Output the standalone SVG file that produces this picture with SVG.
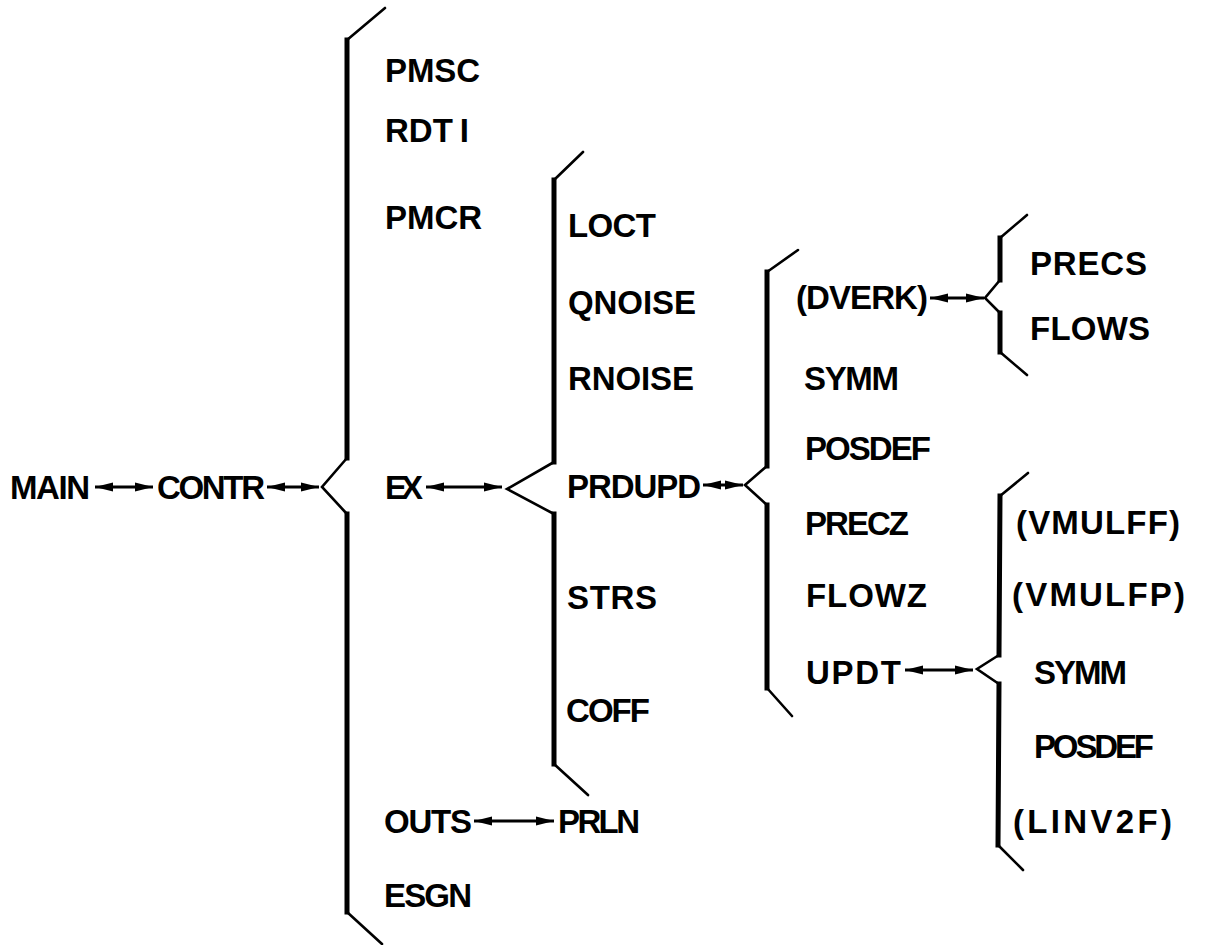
<svg xmlns="http://www.w3.org/2000/svg" width="1207" height="945" viewBox="0 0 1207 945">
<style>
text{font-family:"Liberation Sans",Arial,sans-serif;font-size:33px;font-weight:bold;fill:#000}
.v{fill:none;stroke:#000;stroke-width:5;stroke-linecap:square}
.d{fill:none;stroke:#000;stroke-width:2.6;stroke-linecap:round}
.a{fill:none;stroke:#000;stroke-width:2.8}
</style>
<defs>
<marker id="ah" markerUnits="userSpaceOnUse" markerWidth="20" markerHeight="12" refX="18" refY="6" orient="auto-start-reverse">
<path d="M0,1.5 L18,6 L0,10.5 Z" fill="#000"/>
</marker>
</defs>
<rect width="1207" height="945" fill="#fff"/>
<g id="braces">
<g id="brace-contr">
<path class="d" d="M385,8 L347,40 M347,458 L322,487 L347,514 M347,912 L382,944"/>
<path class="v" d="M347,40 L347,458 M347,514 L347,912"/>
</g>
<g id="brace-ex">
<path class="d" d="M583,152 L554,180 M554,462 L507,489 L554,514 M554,764 L588,795"/>
<path class="v" d="M554,180 L554,462 M554,514 L554,764"/>
</g>
<g id="brace-prdupd">
<path class="d" d="M798,250 L767,272 M767,466 L745,485 L767,505 M767,688 L792,716"/>
<path class="v" d="M767,272 L767,466 M767,505 L767,688"/>
</g>
<g id="brace-dverk">
<path class="d" d="M1027,215 L1000,238 M1000,280 L985,298 L1000,313 M1000,352 L1027,375"/>
<path class="v" d="M1000,238 L1000,280 M1000,313 L1000,352"/>
</g>
<g id="brace-updt">
<path class="d" d="M1028,473 L1000,496 M999,655 L977,669 L999,684 M998,845 L1023,870"/>
<path class="v" d="M1000,496 L999,655 M999,684 L998,845"/>
</g>
</g>
<g id="connectors">
<line class="a" x1="95" y1="487" x2="153" y2="487" marker-start="url(#ah)" marker-end="url(#ah)"/>
<line class="a" x1="267" y1="487" x2="319" y2="487" marker-start="url(#ah)" marker-end="url(#ah)"/>
<line class="a" x1="426" y1="487" x2="502" y2="487" marker-start="url(#ah)" marker-end="url(#ah)"/>
<line class="a" x1="703" y1="485" x2="743" y2="485" marker-start="url(#ah)" marker-end="url(#ah)"/>
<line class="a" x1="930" y1="298" x2="984" y2="298" marker-start="url(#ah)" marker-end="url(#ah)"/>
<line class="a" x1="905" y1="670" x2="973" y2="670" marker-start="url(#ah)" marker-end="url(#ah)"/>
<line class="a" x1="474" y1="821" x2="554" y2="821" marker-start="url(#ah)" marker-end="url(#ah)"/>
</g>
<g id="node-main"><text x="10" y="499" textLength="80">MAIN</text></g>
<g id="node-contr"><text x="157" y="499" textLength="108">CONTR</text></g>
<g id="node-pmsc"><text x="385" y="82" textLength="95">PMSC</text></g>
<g id="node-rdti"><text x="385" y="142">RDT<tspan dx="7">I</tspan></text></g>
<g id="node-pmcr"><text x="385" y="229" textLength="97">PMCR</text></g>
<g id="node-ex"><text x="385" y="499" textLength="38">EX</text></g>
<g id="node-outs"><text x="384" y="833" textLength="88">OUTS</text></g>
<g id="node-prln"><text x="558" y="833" textLength="82">PRLN</text></g>
<g id="node-esgn"><text x="384" y="907" textLength="88">ESGN</text></g>
<g id="node-loct"><text x="568" y="237" textLength="88">LOCT</text></g>
<g id="node-qnoise"><text x="568" y="314" textLength="128">QNOISE</text></g>
<g id="node-rnoise"><text x="568" y="390" textLength="126">RNOISE</text></g>
<g id="node-prdupd"><text x="567" y="498" textLength="134">PRDUPD</text></g>
<g id="node-strs"><text x="567" y="609" textLength="90">STRS</text></g>
<g id="node-coff"><text x="566" y="722" textLength="84">COFF</text></g>
<g id="node-dverk"><text x="796" y="309" textLength="132">(DVERK)</text></g>
<g id="node-symm1"><text x="804" y="390" textLength="95">SYMM</text></g>
<g id="node-posdef1"><text x="805" y="460" textLength="126">POSDEF</text></g>
<g id="node-precz"><text x="805" y="535" textLength="104">PRECZ</text></g>
<g id="node-flowz"><text x="806" y="607" textLength="121">FLOWZ</text></g>
<g id="node-updt"><text x="806" y="684" textLength="95">UPDT</text></g>
<g id="node-precs"><text x="1030" y="275" textLength="117">PRECS</text></g>
<g id="node-flows"><text x="1030" y="340" textLength="120">FLOWS</text></g>
<g id="node-vmulff"><text x="1016" y="534" textLength="164">(VMULFF)</text></g>
<g id="node-vmulfp"><text x="1012" y="606" textLength="173">(VMULFP)</text></g>
<g id="node-symm2"><text x="1034" y="684" textLength="93">SYMM</text></g>
<g id="node-posdef2"><text x="1034" y="758" textLength="120">POSDEF</text></g>
<g id="node-linv2f"><text x="1013" y="833" textLength="159">(LINV2F)</text></g>
</svg>
